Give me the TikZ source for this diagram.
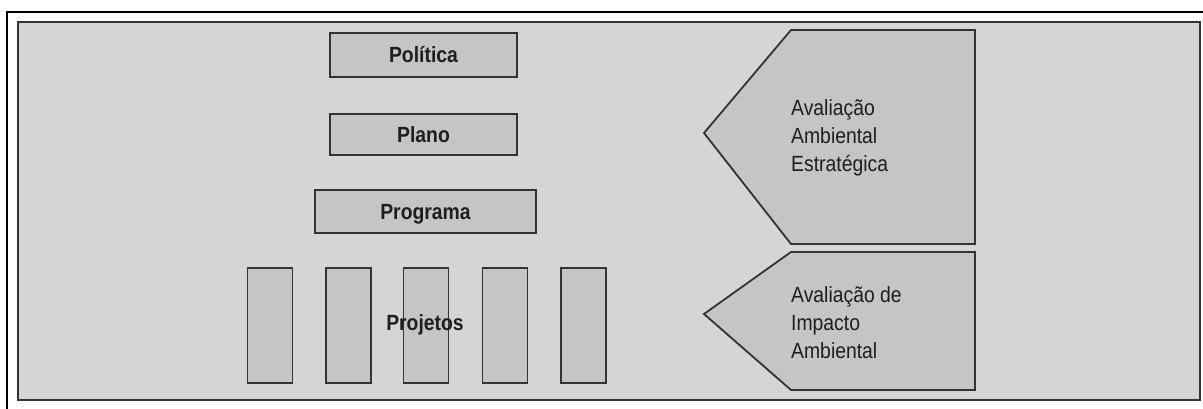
\documentclass[tikz,border=0pt]{standalone}
\usepackage{fontspec}
\setmainfont{Liberation Sans}[FakeStretch=0.88]
\definecolor{panel}{HTML}{D4D5D7}
\definecolor{boxfill}{HTML}{C4C5C7}
\definecolor{edge}{HTML}{333333}
\definecolor{ink}{HTML}{1E1E1E}
\begin{document}
\begin{tikzpicture}[x=1pt,y=-1pt,
  levelbox/.style={draw=edge,line width=1.8pt,fill=boxfill,inner sep=0pt,
    text height=16pt,text depth=0pt,font=\fontsize{22}{26}\selectfont\bfseries,text=ink},
  projbox/.style={draw=edge,line width=1.8pt,fill=boxfill,inner sep=0pt,
    minimum width=45pt,minimum height=115pt},
  arrowshape/.style={draw=edge,line width=1.8pt,fill=boxfill,line join=miter},
  label/.style={font=\fontsize{22}{28}\selectfont,text=ink,align=left,anchor=north west,inner sep=0pt}]
\useasboundingbox (0,0) rectangle (1203,409);
\fill[white] (0,0) rectangle (1203,409);
% outer frame lines
\draw[black,line width=2pt] (7,409) -- (7,12) -- (1203,12);
% panel
\draw[edge,line width=2.2pt,fill=panel] (18,22) rectangle (1200,400);
% level boxes
\node[levelbox,minimum width=187pt,minimum height=44pt] (pol) at (423.5,55) {Política};
\node[levelbox,minimum width=187pt,minimum height=41pt] (pla) at (423.5,134.5) {Plano};
\node[levelbox,minimum width=221pt,minimum height=43pt] (prg) at (425.5,211.5) {Programa};
% project boxes
\node[projbox] (p1) at (270,325.5) {};
\node[projbox] (p2) at (348.5,325.5) {};
\node[projbox] (p3) at (426,325.5) {};
\node[projbox] (p4) at (505,325.5) {};
\node[projbox] (p5) at (583.5,325.5) {};
\node[font=\fontsize{22}{26}\selectfont\bfseries,text=ink,inner sep=0pt,anchor=base] (proj) at (425,330) {Projetos};
% pentagon arrows
\draw[arrowshape] (791,30) -- (975,30) -- (975,244) -- (791,244) -- (704,133) -- cycle;
\draw[arrowshape] (791,252) -- (975,252) -- (975,390) -- (791,390) -- (704,314) -- cycle;
\node[label] (aae) at (791,99) {Avaliação\\Ambiental\\Estratégica};
\node[label] (aia) at (791,286) {Avaliação de\\Impacto\\Ambiental};
\end{tikzpicture}
\end{document}
